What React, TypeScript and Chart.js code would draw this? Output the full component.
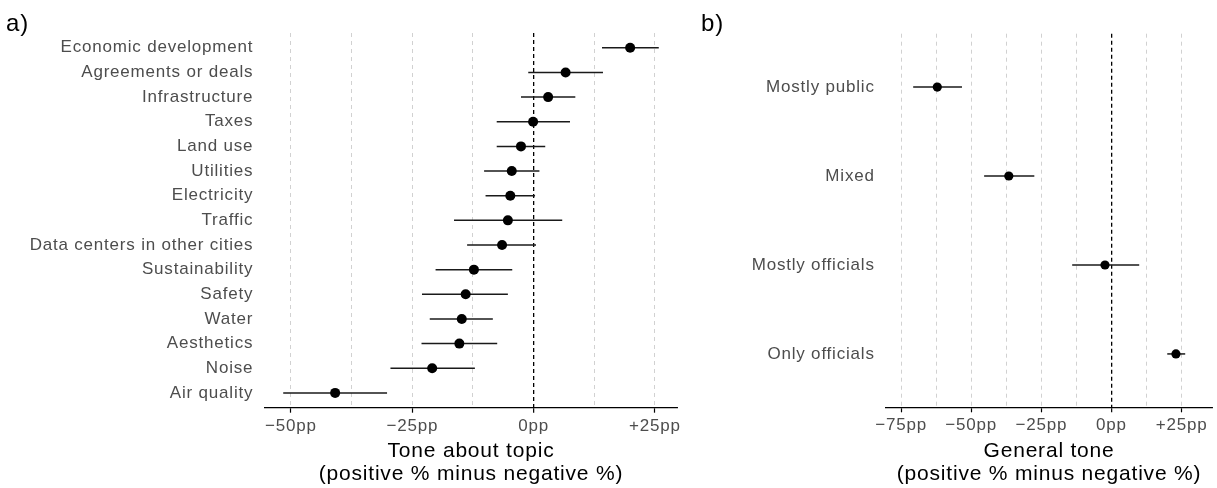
import React, { useEffect, useRef } from "react";
import { Chart, registerables } from "chart.js";

Chart.register(...registerables);

// ---------- Data ----------
const topicLabels = [
  "Economic development",
  "Agreements or deals",
  "Infrastructure",
  "Taxes",
  "Land use",
  "Utilities",
  "Electricity",
  "Traffic",
  "Data centers in other cities",
  "Sustainability",
  "Safety",
  "Water",
  "Aesthetics",
  "Noise",
  "Air quality",
];
const topicEstimate = [19.9, 6.6, 3.0, -0.1, -2.6, -4.5, -4.8, -5.3, -6.5, -12.3, -14.0, -14.8, -15.3, -20.9, -40.9];
const topicLower = [14.1, -1.1, -2.6, -7.6, -7.6, -10.2, -9.9, -16.4, -13.7, -20.2, -23.0, -21.4, -23.1, -29.5, -51.6];
const topicUpper = [25.8, 14.3, 8.6, 7.5, 2.4, 1.2, 0.3, 5.9, 0.5, -4.4, -5.3, -8.4, -7.5, -12.1, -30.2];

const speakerLabels = ["Mostly public", "Mixed", "Mostly officials", "Only officials"];
const speakerEstimate = [-62.1, -36.6, -2.3, 23.0];
const speakerLower = [-70.7, -45.4, -14.0, 19.9];
const speakerUpper = [-53.3, -27.5, 9.9, 26.3];

const topicGridValues = [-50, -37.5, -25, -12.5, 0, 12.5, 25];
const speakerGridValues = [-75, -62.5, -50, -37.5, -25, -12.5, 0, 12.5, 25];
const majorTickValues = [-75, -50, -25, 0, 25];
const majorTickLabels = ["\u221275pp", "\u221250pp", "\u221225pp", "0pp", "+25pp"];

const topicAxisTitle = ["Tone about topic", "(positive % minus negative %)"];
const speakerAxisTitle = ["General tone", "(positive % minus negative %)"];

const FONT = "'Liberation Sans', Arial, Helvetica, sans-serif";
const LETTER_SPACING = "0.8px";

type PanelProps = {
  width: number;
  labels: string[];
  estimate: number[];
  lower: number[];
  upper: number[];
  gridValues: number[];
  xMin: number;
  xMax: number;
  yAxisWidth: number;
  padTop: number;
  padRight: number;
  xAxisHeight: number;
  pointRadius: number;
  title: string[];
};

function Panel(p: PanelProps) {
  const ref = useRef<HTMLCanvasElement | null>(null);

  useEffect(() => {
    if (!ref.current) return;
    const n = p.labels.length;
    const errorBars = {
      id: "errorBars",
      beforeDraw(chart: any) {
        (chart.ctx as any).letterSpacing = LETTER_SPACING;
      },
      beforeDatasetsDraw(chart: any) {
        const { ctx } = chart;
        const xs = chart.scales.x;
        const ys = chart.scales.y;
        ctx.save();
        ctx.strokeStyle = "#1a1a1a";
        ctx.lineWidth = 1.5;
        ctx.setLineDash([]);
        p.lower.forEach((lo, i) => {
          const py = ys.getPixelForValue(i);
          ctx.beginPath();
          ctx.moveTo(xs.getPixelForValue(lo), py);
          ctx.lineTo(xs.getPixelForValue(p.upper[i]), py);
          ctx.stroke();
        });
        ctx.restore();
      },
    };

    const isMajor = (v: number) => majorTickValues.indexOf(v) >= 0;

    const chart = new Chart(ref.current, {
      type: "scatter",
      data: {
        datasets: [
          {
            data: p.estimate.map((v, i) => ({ x: v, y: i })),
            backgroundColor: "#000000",
            borderWidth: 0,
            pointRadius: p.pointRadius,
            pointHoverRadius: p.pointRadius,
          },
        ],
      },
      options: {
        animation: false,
        responsive: false,
        maintainAspectRatio: false,
        events: [],
        layout: { padding: { left: 0, top: p.padTop, right: p.padRight, bottom: 0 } },
        plugins: {
          legend: { display: false },
          tooltip: { enabled: false },
          title: { display: false },
        },
        scales: {
          x: {
            type: "linear",
            position: "bottom",
            min: p.xMin,
            max: p.xMax,
            afterBuildTicks: (s: any) => {
              s.ticks = p.gridValues.map((v) => ({ value: v }));
            },
            afterFit: (s: any) => {
              s.height = p.xAxisHeight;
            },
            ticks: {
              autoSkip: false,
              maxRotation: 0,
              padding: 3,
              color: "#4d4d4d",
              font: { family: FONT, size: 17 },
              callback: (v: any) => {
                const i = majorTickValues.indexOf(Number(v));
                return i >= 0 ? majorTickLabels[i] : "";
              },
            },
            grid: {
              drawOnChartArea: true,
              drawTicks: true,
              tickLength: 5,
              color: (c: any) => (c.tick && c.tick.value === 0 ? "#000000" : "#cccccc"),
              lineWidth: (c: any) => (c.tick && c.tick.value === 0 ? 1.3 : 0.9),
              tickColor: (c: any) => (c.tick && isMajor(c.tick.value) ? "#000000" : "rgba(0,0,0,0)"),
              tickWidth: 1.2,
            },
            border: {
              display: true,
              color: "#000000",
              width: 1.3,
              dash: (c: any) => (c.tick && c.tick.value === 0 ? [4, 3] : [4, 4]),
            },
            title: {
              display: true,
              text: p.title,
              color: "#000000",
              font: { family: FONT, size: 21, lineHeight: 1.1 },
              padding: { top: 0, bottom: 2.5 },
            },
          },
          y: {
            type: "linear",
            position: "left",
            reverse: true,
            min: -0.6,
            max: n - 1 + 0.6,
            afterBuildTicks: (s: any) => {
              s.ticks = p.labels.map((_, i) => ({ value: i }));
            },
            afterFit: (s: any) => {
              s.width = p.yAxisWidth;
            },
            ticks: {
              autoSkip: false,
              padding: 11,
              color: "#4d4d4d",
              font: { family: FONT, size: 17 },
              callback: (v: any) => p.labels[Number(v)] ?? "",
            },
            grid: { display: false, drawTicks: false },
            border: { display: false },
          },
        },
      },
      plugins: [errorBars],
    } as any);

    return () => chart.destroy();
  }, []);

  return (
    <canvas
      ref={ref}
      width={p.width}
      height={488}
      style={{ display: "block", width: p.width, height: 488 }}
    />
  );
}

const panelLetter: React.CSSProperties = {
  position: "absolute",
  top: 11,
  fontFamily: FONT,
  fontSize: 24,
  lineHeight: "24px",
  letterSpacing: "0.8px",
  color: "#000",
};

export default function App() {
  return (
    <div
      style={{
        position: "absolute",
        left: 0,
        top: 0,
        width: 1217,
        height: 488,
        background: "#ffffff",
        overflow: "hidden",
      }}
    >
      <div style={{ position: "absolute", left: 0, top: 0 }}>
        <Panel
          width={700}
          labels={topicLabels}
          estimate={topicEstimate}
          lower={topicLower}
          upper={topicUpper}
          gridValues={topicGridValues}
          xMin={-55.5}
          xMax={29.7}
          yAxisWidth={264.3}
          padTop={33}
          padRight={22.3}
          xAxisHeight={80.3}
          pointRadius={5}
          title={topicAxisTitle}
        />
      </div>
      <div style={{ position: "absolute", left: 700, top: 0 }}>
        <Panel
          width={517}
          labels={speakerLabels}
          estimate={speakerEstimate}
          lower={speakerLower}
          upper={speakerUpper}
          gridValues={speakerGridValues}
          xMin={-80.5}
          xMax={36.0}
          yAxisWidth={185.7}
          padTop={33.7}
          padRight={1.3}
          xAxisHeight={80.7}
          pointRadius={4.6}
          title={speakerAxisTitle}
        />
      </div>
      <div style={{ ...panelLetter, left: 6 }}>a)</div>
      <div style={{ ...panelLetter, left: 701 }}>b)</div>
    </div>
  );
}
